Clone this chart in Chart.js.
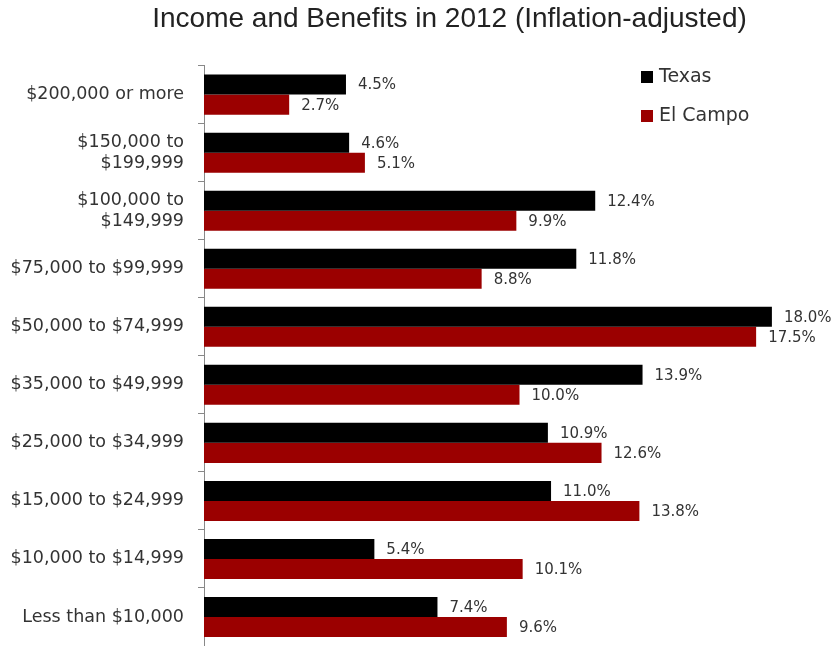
<!DOCTYPE html>
<html>
<head>
<meta charset="utf-8">
<script src="https://cdn.jsdelivr.net/npm/chart.js@4"></script>
<style>
  html, body { margin: 0; padding: 0; background: #fff; }
  #wrap { width: 835px; height: 646px; }
</style>
</head>
<body>
<div id="wrap"><canvas id="incomeChart" width="835" height="646"></canvas></div>
<script>
const incomeLabels = [
    "$200,000 or more",
    ["$150,000 to", "$199,999"],
    ["$100,000 to", "$149,999"],
    "$75,000 to $99,999",
    "$50,000 to $74,999",
    "$35,000 to $49,999",
    "$25,000 to $34,999",
    "$15,000 to $24,999",
    "$10,000 to $14,999",
    "Less than $10,000"
];
const texasValues   = [4.5, 4.6, 12.4, 11.8, 18.0, 13.9, 10.9, 11.0, 5.4, 7.4];
const elCampoValues = [2.7, 5.1, 9.9, 8.8, 17.5, 10.0, 12.6, 13.8, 10.1, 9.6];
const seriesNames = ["Texas", "El Campo"];
const seriesColors = ["#000000", "#9b0000"];

const labelFont = '"DejaVu Sans", sans-serif';

// value labels right of each bar
const valueLabels = {
    id: 'valueLabels',
    afterDatasetsDraw(chart) {
        const ctx = chart.ctx;
        ctx.save();
        ctx.font = '15px ' + labelFont;
        ctx.fillStyle = '#333';
        ctx.textAlign = 'left';
        ctx.textBaseline = 'middle';
        chart.data.datasets.forEach((ds, i) => {
            const meta = chart.getDatasetMeta(i);
            meta.data.forEach((bar, j) => {
                ctx.fillText(ds.data[j].toFixed(1) + '%', bar.x + 12, bar.y + 1);
            });
        });
        ctx.restore();
    }
};

// legend in the top right corner of the plot
const cornerLegend = {
    id: 'cornerLegend',
    afterDraw(chart) {
        const ctx = chart.ctx;
        ctx.save();
        ctx.font = '19px ' + labelFont;
        ctx.textBaseline = 'middle';
        chart.data.datasets.forEach((ds, i) => {
            const y = 77 + i * 39;
            ctx.fillStyle = ds.backgroundColor;
            ctx.fillRect(641, y - 6, 12, 12);
            ctx.fillStyle = '#333';
            ctx.fillText(ds.label, 659, y);
        });
        ctx.restore();
    }
};

// title sits a bit right of the canvas centre
const shiftTitle = {
    id: 'shiftTitle',
    afterLayout(chart) {
        if (chart.titleBlock) chart.titleBlock.left = 64;
    }
};

new Chart(document.getElementById('incomeChart'), {
    type: 'bar',
    data: {
        labels: incomeLabels,
        datasets: [
            { label: seriesNames[0], data: texasValues, backgroundColor: seriesColors[0] },
            { label: seriesNames[1], data: elCampoValues, backgroundColor: seriesColors[1] }
        ]
    },
    options: {
        indexAxis: 'y',
        responsive: false,
        animation: false,
        devicePixelRatio: 1,
        categoryPercentage: 0.69,
        barPercentage: 1.0,
        layout: { padding: 0 },
        scales: {
            x: {
                display: false,
                min: 0,
                max: 20
            },
            y: {
                afterFit(scale) {
                    scale.width = 204;
                    scale.paddingTop = 0;
                    scale.paddingBottom = 0;
                },
                border: { display: true, color: '#888', width: 1 },
                grid: { drawOnChartArea: false, drawTicks: true, tickLength: 6, color: '#888' },
                ticks: {
                    padding: 14,
                    color: '#333',
                    font: { family: labelFont, size: 17.5, lineHeight: 1.18 }
                }
            }
        },
        plugins: {
            legend: { display: false },
            tooltip: { enabled: false },
            title: {
                display: true,
                text: 'Income and Benefits in 2012 (Inflation-adjusted)',
                color: '#222',
                font: { family: '"Liberation Sans", Arial, sans-serif', size: 28, weight: 'normal', lineHeight: 1.2 },
                padding: { top: 2, bottom: 30 }
            }
        }
    },
    plugins: [valueLabels, cornerLegend, shiftTitle]
});
</script>
</body>
</html>
